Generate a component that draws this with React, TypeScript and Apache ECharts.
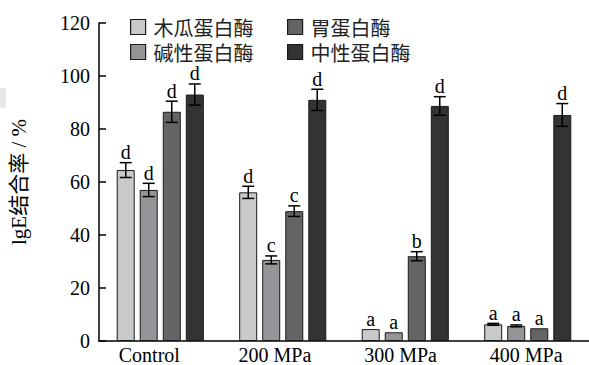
import React, { useEffect, useRef } from "react";
import * as echarts from "echarts";

const categories = ["Control", "200 MPa", "300 MPa", "400 MPa"];
const yTicks = [0, 20, 40, 60, 80, 100, 120];

const seriesNames = ["木瓜蛋白酶", "碱性蛋白酶", "胃蛋白酶", "中性蛋白酶"];
const papain = [64.5, 56.1, 4.5, 6.3];
const papainErr = [2.8, 2.3, 0, 0.35];
const papainLetters = ["d", "d", "a", "a"];
const alkaline = [57.0, 30.6, 3.3, 5.7];
const alkalineErr = [2.5, 1.5, 0, 0.35];
const alkalineLetters = ["d", "c", "a", "a"];
const pepsin = [86.5, 49.0, 32.0, 4.8];
const pepsinErr = [4.0, 2.0, 1.7, 0];
const pepsinLetters = ["d", "c", "b", "a"];
const neutral = [93.0, 91.0, 88.7, 85.3];
const neutralErr = [4.0, 4.0, 3.5, 4.3];
const neutralLetters = ["d", "d", "d", "d"];

const colors = ["#c8c9cb", "#939598", "#636466", "#333333"];
const values = [papain, alkaline, pepsin, neutral];
const errs = [papainErr, alkalineErr, pepsinErr, neutralErr];
const letters = [papainLetters, alkalineLetters, pepsinLetters, neutralLetters];

const BAR_W = 18;
const BAR_STEP = 23;
const SERIF = "'Liberation Serif', 'Times New Roman', serif";

export default function App() {
  const ref = useRef<HTMLDivElement>(null);
  useEffect(() => {
    if (!ref.current) return;
    const chart = echarts.init(ref.current, null, { renderer: "svg" });

    const barSeries = values.map((vals, si) => ({
      type: "bar",
      name: seriesNames[si],
      xAxisIndex: 0,
      yAxisIndex: 0,
      data: vals,
      barWidth: BAR_W,
      barGap: "28%",
      itemStyle: { color: colors[si], borderColor: "#1a1a1a", borderWidth: 1 },
      z: 2,
    }));

    const errSeries = values.map((vals, si) => ({
      type: "custom",
      name: "err" + si,
      xAxisIndex: 0,
      yAxisIndex: 0,
      z: 5,
      data: vals.map((v, i) => [i, v, errs[si][i]]),
      renderItem: (params: any, api: any) => {
        const ci = api.value(0);
        const v = api.value(1);
        const e = api.value(2);
        const base = api.coord([ci, v]);
        const x = base[0] + (si - 1.5) * BAR_STEP;
        const hi = api.coord([ci, v + e])[1];
        const lo = api.coord([ci, v - e])[1];
        const children: any[] = [];
        const cap = 6;
        const ls = { stroke: "#000", lineWidth: 1.5 };
        if (e > 0) {
          children.push({ type: "line", shape: { x1: x, y1: hi, x2: x, y2: lo }, style: ls });
          children.push({ type: "line", shape: { x1: x - cap, y1: hi, x2: x + cap, y2: hi }, style: ls });
          children.push({ type: "line", shape: { x1: x - cap, y1: lo, x2: x + cap, y2: lo }, style: ls });
        }
        children.push({
          type: "text",
          x: x,
          y: hi - 0.5,
          style: {
            text: letters[si][params.dataIndex],
            fill: "#000",
            font: "20px " + SERIF,
            align: "center",
            verticalAlign: "bottom",
          },
        });
        return { type: "group", children };
      },
    }));

    const legendPos = [
      { left: 130, top: 17 },
      { left: 130, top: 42 },
      { left: 287, top: 17 },
      { left: 287, top: 42 },
    ];

    const option: any = {
      animation: false,
      grid: [
        { left: 92, right: -9, top: 23, bottom: 24, containLabel: false },
        { left: 86.5, right: -29.5, top: 23, bottom: 24, containLabel: false },
      ],
      graphic: [
        { type: "rect", shape: { x: 0, y: 88, width: 6, height: 20 }, style: { fill: "#e6e6e6" } },
      ],
      legend: seriesNames.map((n, si) => ({
        data: [{ name: n, itemStyle: { color: colors[si], borderColor: "#1a1a1a", borderWidth: 1.2 } }],
        left: legendPos[si].left,
        top: legendPos[si].top,
        padding: 0,
        icon: "rect",
        itemWidth: 15,
        itemHeight: 15,
        selectedMode: false,
        textStyle: {
          fontFamily: "'Noto Sans CJK SC', sans-serif",
          fontSize: 20,
          lineHeight: 20,
          color: "#222",
          padding: [0, 0, 0, 3],
        },
      })),
      xAxis: [
        {
          type: "category",
          gridIndex: 0,
          data: categories,
          axisLine: { lineStyle: { color: "#000", width: 1.5 } },
          axisTick: { show: false },
          axisLabel: { show: false },
        },
        {
          type: "category",
          gridIndex: 1,
          data: categories,
          axisLine: { show: false },
          axisTick: { show: false },
          axisLabel: { fontFamily: SERIF, fontSize: 20, color: "#000", margin: 8 },
        },
      ],
      yAxis: [
        {
          type: "value",
          gridIndex: 0,
          min: yTicks[0],
          max: yTicks[yTicks.length - 1],
          interval: 20,
          splitLine: { show: false },
          axisLine: { show: true, lineStyle: { color: "#000", width: 1.5 } },
          axisTick: { show: true, inside: true, length: 7, lineStyle: { color: "#000", width: 1.5 } },
          axisLabel: { fontFamily: SERIF, fontSize: 20, color: "#000", margin: 9 },
          name: "lgE结合率 / %",
          nameLocation: "middle",
          nameRotate: 90,
          nameGap: 70,
          nameTextStyle: { fontFamily: SERIF + ", 'Noto Sans CJK SC'", fontSize: 21, color: "#000" },
        },
        {
          type: "value",
          gridIndex: 1,
          min: 0,
          max: 120,
          show: false,
        },
      ],
      series: [...barSeries, ...errSeries],
    };
    chart.setOption(option);
    return () => chart.dispose();
  }, []);
  return <div ref={ref} style={{ width: 589, height: 365, position: "absolute", left: 0, top: 0 }} />;
}
